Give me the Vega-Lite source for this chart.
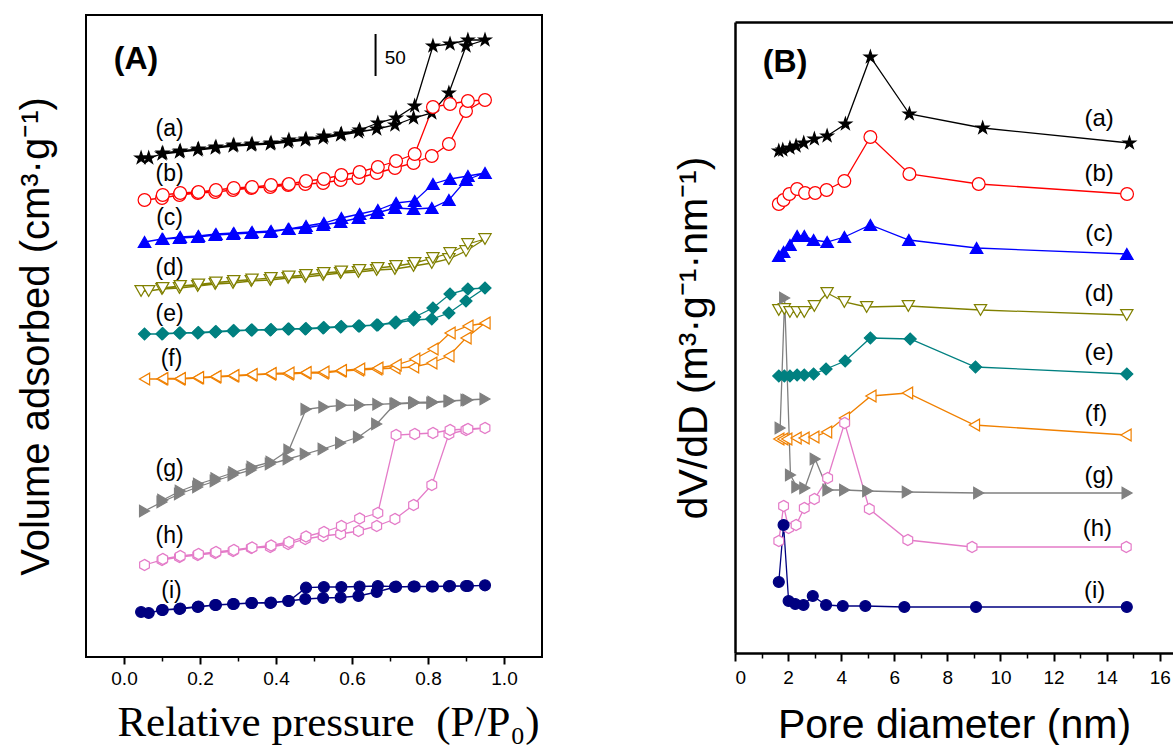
{
"$schema": "https://vega.github.io/schema/vega-lite/v6.json",
"padding": {"left": 15, "top": 14, "right": 0, "bottom": 0},
"config": {"view": {"stroke": null}, "font": "Liberation Sans", "axis": {"grid": false}},
"datasets": {
"iso": [
{"s":"a","k":0,"p":0.045,"v":499},{"s":"a","k":1,"p":0.065,"v":499},{"s":"a","k":2,"p":0.10,"v":503},{"s":"a","k":3,"p":0.146,"v":505},{"s":"a","k":4,"p":0.194,"v":507},{"s":"a","k":5,"p":0.24,"v":509},{"s":"a","k":6,"p":0.287,"v":511},{"s":"a","k":7,"p":0.335,"v":512},{"s":"a","k":8,"p":0.385,"v":513},{"s":"a","k":9,"p":0.432,"v":515},{"s":"a","k":10,"p":0.477,"v":517},{"s":"a","k":11,"p":0.524,"v":519},{"s":"a","k":12,"p":0.57,"v":522},{"s":"a","k":13,"p":0.617,"v":525},{"s":"a","k":14,"p":0.665,"v":528},{"s":"a","k":15,"p":0.713,"v":532},{"s":"a","k":16,"p":0.762,"v":539},{"s":"a","k":17,"p":0.81,"v":544},{"s":"a","k":18,"p":0.855,"v":564},{"s":"a","k":19,"p":0.9,"v":611},{"s":"a","k":20,"p":0.95,"v":617},
{"s":"a","k":21,"p":0.905,"v":617},{"s":"a","k":22,"p":0.858,"v":613},{"s":"a","k":23,"p":0.813,"v":611},{"s":"a","k":24,"p":0.765,"v":551},{"s":"a","k":25,"p":0.716,"v":539},{"s":"a","k":26,"p":0.668,"v":534},{"s":"a","k":27,"p":0.62,"v":527},{"s":"a","k":28,"p":0.572,"v":523},{"s":"a","k":29,"p":0.526,"v":521},{"s":"a","k":30,"p":0.479,"v":518},{"s":"a","k":31,"p":0.434,"v":517},{"s":"a","k":32,"p":0.387,"v":514},{"s":"a","k":33,"p":0.337,"v":513},{"s":"a","k":34,"p":0.289,"v":512},{"s":"a","k":35,"p":0.242,"v":510},{"s":"a","k":36,"p":0.196,"v":508},{"s":"a","k":37,"p":0.148,"v":506},{"s":"a","k":38,"p":0.102,"v":504},

{"s":"b","k":0,"p":0.054,"v":457},{"s":"b","k":1,"p":0.10,"v":459},{"s":"b","k":2,"p":0.146,"v":462},{"s":"b","k":3,"p":0.194,"v":464},{"s":"b","k":4,"p":0.24,"v":465},{"s":"b","k":5,"p":0.287,"v":467},{"s":"b","k":6,"p":0.335,"v":469},{"s":"b","k":7,"p":0.385,"v":470},{"s":"b","k":8,"p":0.432,"v":472},{"s":"b","k":9,"p":0.477,"v":473},{"s":"b","k":10,"p":0.524,"v":474},{"s":"b","k":11,"p":0.57,"v":477},{"s":"b","k":12,"p":0.617,"v":479},{"s":"b","k":13,"p":0.665,"v":484},{"s":"b","k":14,"p":0.713,"v":489},{"s":"b","k":15,"p":0.762,"v":494},{"s":"b","k":16,"p":0.81,"v":501},{"s":"b","k":17,"p":0.855,"v":513},{"s":"b","k":18,"p":0.9,"v":546},{"s":"b","k":19,"p":0.95,"v":557},
{"s":"b","k":20,"p":0.905,"v":556},{"s":"b","k":21,"p":0.858,"v":553},{"s":"b","k":22,"p":0.813,"v":550},{"s":"b","k":23,"p":0.765,"v":503},{"s":"b","k":24,"p":0.716,"v":496},{"s":"b","k":25,"p":0.668,"v":490},{"s":"b","k":26,"p":0.62,"v":485},{"s":"b","k":27,"p":0.572,"v":482},{"s":"b","k":28,"p":0.526,"v":478},{"s":"b","k":29,"p":0.479,"v":476},{"s":"b","k":30,"p":0.434,"v":473},{"s":"b","k":31,"p":0.387,"v":472},{"s":"b","k":32,"p":0.337,"v":470},{"s":"b","k":33,"p":0.289,"v":469},{"s":"b","k":34,"p":0.242,"v":467},{"s":"b","k":35,"p":0.196,"v":465},{"s":"b","k":36,"p":0.148,"v":464},{"s":"b","k":37,"p":0.102,"v":462},

{"s":"c","k":0,"p":0.054,"v":415},{"s":"c","k":1,"p":0.10,"v":418},{"s":"c","k":2,"p":0.146,"v":419},{"s":"c","k":3,"p":0.194,"v":420},{"s":"c","k":4,"p":0.24,"v":422},{"s":"c","k":5,"p":0.287,"v":423},{"s":"c","k":6,"p":0.335,"v":424},{"s":"c","k":7,"p":0.385,"v":425},{"s":"c","k":8,"p":0.432,"v":428},{"s":"c","k":9,"p":0.477,"v":429},{"s":"c","k":10,"p":0.524,"v":432},{"s":"c","k":11,"p":0.57,"v":435},{"s":"c","k":12,"p":0.617,"v":439},{"s":"c","k":13,"p":0.665,"v":444},{"s":"c","k":14,"p":0.713,"v":449},{"s":"c","k":15,"p":0.762,"v":448},{"s":"c","k":16,"p":0.81,"v":449},{"s":"c","k":17,"p":0.855,"v":457},{"s":"c","k":18,"p":0.9,"v":477},{"s":"c","k":19,"p":0.95,"v":484},
{"s":"c","k":20,"p":0.905,"v":481},{"s":"c","k":21,"p":0.858,"v":478},{"s":"c","k":22,"p":0.813,"v":473},{"s":"c","k":23,"p":0.765,"v":456},{"s":"c","k":24,"p":0.716,"v":454},{"s":"c","k":25,"p":0.668,"v":447},{"s":"c","k":26,"p":0.62,"v":443},{"s":"c","k":27,"p":0.572,"v":439},{"s":"c","k":28,"p":0.526,"v":434},{"s":"c","k":29,"p":0.479,"v":431},{"s":"c","k":30,"p":0.434,"v":428},{"s":"c","k":31,"p":0.387,"v":426},{"s":"c","k":32,"p":0.337,"v":425},{"s":"c","k":33,"p":0.289,"v":424},{"s":"c","k":34,"p":0.242,"v":423},{"s":"c","k":35,"p":0.196,"v":421},{"s":"c","k":36,"p":0.148,"v":420},{"s":"c","k":37,"p":0.102,"v":418},

{"s":"d","k":0,"p":0.045,"v":366},{"s":"d","k":1,"p":0.065,"v":366},{"s":"d","k":2,"p":0.10,"v":368},{"s":"d","k":3,"p":0.146,"v":369},{"s":"d","k":4,"p":0.194,"v":371},{"s":"d","k":5,"p":0.24,"v":373},{"s":"d","k":6,"p":0.287,"v":374},{"s":"d","k":7,"p":0.335,"v":376},{"s":"d","k":8,"p":0.385,"v":377},{"s":"d","k":9,"p":0.432,"v":379},{"s":"d","k":10,"p":0.477,"v":380},{"s":"d","k":11,"p":0.524,"v":382},{"s":"d","k":12,"p":0.57,"v":384},{"s":"d","k":13,"p":0.617,"v":385},{"s":"d","k":14,"p":0.665,"v":387},{"s":"d","k":15,"p":0.713,"v":388},{"s":"d","k":16,"p":0.762,"v":391},{"s":"d","k":17,"p":0.81,"v":394},{"s":"d","k":18,"p":0.855,"v":398},{"s":"d","k":19,"p":0.9,"v":406},{"s":"d","k":20,"p":0.95,"v":418},
{"s":"d","k":21,"p":0.905,"v":413},{"s":"d","k":22,"p":0.858,"v":404},{"s":"d","k":23,"p":0.813,"v":399},{"s":"d","k":24,"p":0.765,"v":394},{"s":"d","k":25,"p":0.716,"v":391},{"s":"d","k":26,"p":0.668,"v":389},{"s":"d","k":27,"p":0.62,"v":387},{"s":"d","k":28,"p":0.572,"v":385.5},{"s":"d","k":29,"p":0.526,"v":384},{"s":"d","k":30,"p":0.479,"v":382},{"s":"d","k":31,"p":0.434,"v":380.5},{"s":"d","k":32,"p":0.387,"v":379},{"s":"d","k":33,"p":0.337,"v":377.5},{"s":"d","k":34,"p":0.289,"v":376},{"s":"d","k":35,"p":0.242,"v":374.5},{"s":"d","k":36,"p":0.196,"v":372.5},{"s":"d","k":37,"p":0.148,"v":371},{"s":"d","k":38,"p":0.102,"v":369},

{"s":"e","k":0,"p":0.054,"v":323},{"s":"e","k":1,"p":0.10,"v":323},{"s":"e","k":2,"p":0.146,"v":324},{"s":"e","k":3,"p":0.194,"v":324},{"s":"e","k":4,"p":0.24,"v":325},{"s":"e","k":5,"p":0.287,"v":326},{"s":"e","k":6,"p":0.335,"v":327},{"s":"e","k":7,"p":0.385,"v":327},{"s":"e","k":8,"p":0.432,"v":328},{"s":"e","k":9,"p":0.477,"v":328},{"s":"e","k":10,"p":0.524,"v":329},{"s":"e","k":11,"p":0.57,"v":330},{"s":"e","k":12,"p":0.617,"v":331},{"s":"e","k":13,"p":0.665,"v":332},{"s":"e","k":14,"p":0.713,"v":334},{"s":"e","k":15,"p":0.762,"v":337},{"s":"e","k":16,"p":0.81,"v":338},{"s":"e","k":17,"p":0.855,"v":344},{"s":"e","k":18,"p":0.9,"v":356},{"s":"e","k":19,"p":0.95,"v":369},
{"s":"e","k":20,"p":0.905,"v":368},{"s":"e","k":21,"p":0.858,"v":363},{"s":"e","k":22,"p":0.813,"v":349},{"s":"e","k":23,"p":0.765,"v":340},{"s":"e","k":24,"p":0.716,"v":335},{"s":"e","k":25,"p":0.668,"v":332},{"s":"e","k":26,"p":0.62,"v":331},{"s":"e","k":27,"p":0.572,"v":330.5},{"s":"e","k":28,"p":0.526,"v":329.5},{"s":"e","k":29,"p":0.479,"v":328.5},{"s":"e","k":30,"p":0.434,"v":328},{"s":"e","k":31,"p":0.387,"v":327.5},{"s":"e","k":32,"p":0.337,"v":327},{"s":"e","k":33,"p":0.289,"v":326.5},{"s":"e","k":34,"p":0.242,"v":325.5},{"s":"e","k":35,"p":0.196,"v":324.5},{"s":"e","k":36,"p":0.148,"v":324},{"s":"e","k":37,"p":0.102,"v":323.5},

{"s":"f","k":0,"p":0.054,"v":278},{"s":"f","k":1,"p":0.10,"v":278},{"s":"f","k":2,"p":0.146,"v":278},{"s":"f","k":3,"p":0.194,"v":279},{"s":"f","k":4,"p":0.24,"v":280},{"s":"f","k":5,"p":0.287,"v":281},{"s":"f","k":6,"p":0.335,"v":282},{"s":"f","k":7,"p":0.385,"v":283},{"s":"f","k":8,"p":0.432,"v":283},{"s":"f","k":9,"p":0.477,"v":284},{"s":"f","k":10,"p":0.524,"v":284},{"s":"f","k":11,"p":0.57,"v":286},{"s":"f","k":12,"p":0.617,"v":287},{"s":"f","k":13,"p":0.665,"v":288},{"s":"f","k":14,"p":0.713,"v":289},{"s":"f","k":15,"p":0.762,"v":290},{"s":"f","k":16,"p":0.81,"v":294},{"s":"f","k":17,"p":0.855,"v":301},{"s":"f","k":18,"p":0.9,"v":319},{"s":"f","k":19,"p":0.95,"v":334},
{"s":"f","k":20,"p":0.905,"v":331},{"s":"f","k":21,"p":0.858,"v":324},{"s":"f","k":22,"p":0.813,"v":308},{"s":"f","k":23,"p":0.765,"v":298},{"s":"f","k":24,"p":0.716,"v":292},{"s":"f","k":25,"p":0.668,"v":289},{"s":"f","k":26,"p":0.62,"v":288},{"s":"f","k":27,"p":0.572,"v":286.5},{"s":"f","k":28,"p":0.526,"v":285},{"s":"f","k":29,"p":0.479,"v":284.5},{"s":"f","k":30,"p":0.434,"v":284},{"s":"f","k":31,"p":0.387,"v":283.5},{"s":"f","k":32,"p":0.337,"v":282.5},{"s":"f","k":33,"p":0.289,"v":281.5},{"s":"f","k":34,"p":0.242,"v":280.5},{"s":"f","k":35,"p":0.196,"v":279.5},{"s":"f","k":36,"p":0.148,"v":278.5},{"s":"f","k":37,"p":0.102,"v":278.5},

{"s":"g","k":0,"p":0.054,"v":146},{"s":"g","k":1,"p":0.10,"v":155},{"s":"g","k":2,"p":0.146,"v":163},{"s":"g","k":3,"p":0.194,"v":170},{"s":"g","k":4,"p":0.24,"v":176},{"s":"g","k":5,"p":0.287,"v":182},{"s":"g","k":6,"p":0.335,"v":187},{"s":"g","k":7,"p":0.385,"v":193},{"s":"g","k":8,"p":0.432,"v":198},{"s":"g","k":9,"p":0.477,"v":203},{"s":"g","k":10,"p":0.524,"v":208},{"s":"g","k":11,"p":0.57,"v":214},{"s":"g","k":12,"p":0.617,"v":220},{"s":"g","k":13,"p":0.665,"v":233},{"s":"g","k":14,"p":0.713,"v":253},{"s":"g","k":15,"p":0.762,"v":254},{"s":"g","k":16,"p":0.81,"v":254},{"s":"g","k":17,"p":0.855,"v":256},{"s":"g","k":18,"p":0.9,"v":257},{"s":"g","k":19,"p":0.95,"v":258},
{"s":"g","k":20,"p":0.905,"v":257},{"s":"g","k":21,"p":0.858,"v":256},{"s":"g","k":22,"p":0.813,"v":255},{"s":"g","k":23,"p":0.765,"v":254.5},{"s":"g","k":24,"p":0.716,"v":253.5},{"s":"g","k":25,"p":0.668,"v":252.7},{"s":"g","k":26,"p":0.62,"v":252},{"s":"g","k":27,"p":0.572,"v":251.7},{"s":"g","k":28,"p":0.526,"v":250},{"s":"g","k":29,"p":0.479,"v":247.7},{"s":"g","k":30,"p":0.434,"v":207},{"s":"g","k":31,"p":0.387,"v":195},{"s":"g","k":32,"p":0.337,"v":190},{"s":"g","k":33,"p":0.289,"v":184.5},{"s":"g","k":34,"p":0.242,"v":178.5},{"s":"g","k":35,"p":0.196,"v":173},{"s":"g","k":36,"p":0.148,"v":166},{"s":"g","k":37,"p":0.102,"v":157},

{"s":"h","k":0,"p":0.054,"v":92},{"s":"h","k":1,"p":0.10,"v":97},{"s":"h","k":2,"p":0.146,"v":100},{"s":"h","k":3,"p":0.194,"v":102},{"s":"h","k":4,"p":0.24,"v":104},{"s":"h","k":5,"p":0.287,"v":106},{"s":"h","k":6,"p":0.335,"v":109},{"s":"h","k":7,"p":0.385,"v":110},{"s":"h","k":8,"p":0.432,"v":113},{"s":"h","k":9,"p":0.477,"v":118},{"s":"h","k":10,"p":0.524,"v":121},{"s":"h","k":11,"p":0.57,"v":123},{"s":"h","k":12,"p":0.617,"v":126},{"s":"h","k":13,"p":0.665,"v":131},{"s":"h","k":14,"p":0.713,"v":138},{"s":"h","k":15,"p":0.762,"v":152},{"s":"h","k":16,"p":0.81,"v":172},{"s":"h","k":17,"p":0.855,"v":223},{"s":"h","k":18,"p":0.9,"v":227},{"s":"h","k":19,"p":0.95,"v":229},
{"s":"h","k":20,"p":0.905,"v":228},{"s":"h","k":21,"p":0.858,"v":227},{"s":"h","k":22,"p":0.813,"v":224},{"s":"h","k":23,"p":0.765,"v":223},{"s":"h","k":24,"p":0.716,"v":222},{"s":"h","k":25,"p":0.668,"v":144},{"s":"h","k":26,"p":0.62,"v":138.5},{"s":"h","k":27,"p":0.572,"v":131},{"s":"h","k":28,"p":0.526,"v":125},{"s":"h","k":29,"p":0.479,"v":120.5},{"s":"h","k":30,"p":0.434,"v":115},{"s":"h","k":31,"p":0.387,"v":111.5},{"s":"h","k":32,"p":0.337,"v":109.5},{"s":"h","k":33,"p":0.289,"v":107},{"s":"h","k":34,"p":0.242,"v":105},{"s":"h","k":35,"p":0.196,"v":103},{"s":"h","k":36,"p":0.148,"v":101},{"s":"h","k":37,"p":0.102,"v":98},

{"s":"i","k":0,"p":0.045,"v":45},{"s":"i","k":1,"p":0.065,"v":44},{"s":"i","k":2,"p":0.10,"v":47},{"s":"i","k":3,"p":0.146,"v":48},{"s":"i","k":4,"p":0.194,"v":50},{"s":"i","k":5,"p":0.24,"v":52},{"s":"i","k":6,"p":0.287,"v":53},{"s":"i","k":7,"p":0.335,"v":54},{"s":"i","k":8,"p":0.385,"v":54},{"s":"i","k":9,"p":0.432,"v":56},{"s":"i","k":10,"p":0.477,"v":58},{"s":"i","k":11,"p":0.524,"v":59},{"s":"i","k":12,"p":0.57,"v":59.5},{"s":"i","k":13,"p":0.617,"v":61},{"s":"i","k":14,"p":0.665,"v":65},{"s":"i","k":15,"p":0.713,"v":70},{"s":"i","k":16,"p":0.762,"v":70.5},{"s":"i","k":17,"p":0.81,"v":70.5},{"s":"i","k":18,"p":0.855,"v":70.7},{"s":"i","k":19,"p":0.9,"v":71},{"s":"i","k":20,"p":0.95,"v":71.7},
{"s":"i","k":21,"p":0.905,"v":71},{"s":"i","k":22,"p":0.858,"v":71},{"s":"i","k":23,"p":0.813,"v":70.5},{"s":"i","k":24,"p":0.765,"v":70.5},{"s":"i","k":25,"p":0.716,"v":70.3},{"s":"i","k":26,"p":0.668,"v":71},{"s":"i","k":27,"p":0.62,"v":70.5},{"s":"i","k":28,"p":0.572,"v":70},{"s":"i","k":29,"p":0.526,"v":70},{"s":"i","k":30,"p":0.479,"v":69.3},{"s":"i","k":31,"p":0.434,"v":56},{"s":"i","k":32,"p":0.387,"v":54.5},{"s":"i","k":33,"p":0.337,"v":54},{"s":"i","k":34,"p":0.289,"v":53},{"s":"i","k":35,"p":0.242,"v":52},{"s":"i","k":36,"p":0.196,"v":50.5},{"s":"i","k":37,"p":0.148,"v":48.5},{"s":"i","k":38,"p":0.102,"v":47}
],
"psd": [
{"s":"a","k":0,"d":1.65,"v":502},{"s":"a","k":1,"d":1.8,"v":503},{"s":"a","k":2,"d":2.07,"v":505},{"s":"a","k":3,"d":2.3,"v":507},{"s":"a","k":4,"d":2.59,"v":510},{"s":"a","k":5,"d":2.99,"v":514},{"s":"a","k":6,"d":3.47,"v":517},{"s":"a","k":7,"d":4.16,"v":529},{"s":"a","k":8,"d":5.1,"v":596},{"s":"a","k":9,"d":6.57,"v":539},{"s":"a","k":10,"d":9.33,"v":525},{"s":"a","k":11,"d":14.86,"v":510},
{"s":"b","k":0,"d":1.65,"v":449},{"s":"b","k":1,"d":1.83,"v":453},{"s":"b","k":2,"d":2.05,"v":459},{"s":"b","k":3,"d":2.34,"v":464},{"s":"b","k":4,"d":2.64,"v":460},{"s":"b","k":5,"d":3.02,"v":460},{"s":"b","k":6,"d":3.45,"v":463},{"s":"b","k":7,"d":4.12,"v":472},{"s":"b","k":8,"d":5.1,"v":516},{"s":"b","k":9,"d":6.57,"v":479},{"s":"b","k":10,"d":9.18,"v":469},{"s":"b","k":11,"d":14.77,"v":459},
{"s":"c","k":0,"d":1.65,"v":397},{"s":"c","k":1,"d":1.83,"v":401},{"s":"c","k":2,"d":2.07,"v":408},{"s":"c","k":3,"d":2.34,"v":417},{"s":"c","k":4,"d":2.61,"v":417},{"s":"c","k":5,"d":2.96,"v":413},{"s":"c","k":6,"d":3.47,"v":411},{"s":"c","k":7,"d":4.12,"v":416},{"s":"c","k":8,"d":5.1,"v":428},{"s":"c","k":9,"d":6.55,"v":413},{"s":"c","k":10,"d":9.1,"v":405},{"s":"c","k":11,"d":14.76,"v":399},
{"s":"d","k":0,"d":1.65,"v":343},{"s":"d","k":1,"d":1.86,"v":344},{"s":"d","k":2,"d":2.07,"v":341},{"s":"d","k":3,"d":2.34,"v":341},{"s":"d","k":4,"d":2.61,"v":341},{"s":"d","k":5,"d":2.99,"v":347},{"s":"d","k":6,"d":3.47,"v":360},{"s":"d","k":7,"d":4.12,"v":351},{"s":"d","k":8,"d":4.96,"v":346},{"s":"d","k":9,"d":6.53,"v":347},{"s":"d","k":10,"d":9.25,"v":343},{"s":"d","k":11,"d":14.76,"v":338},
{"s":"e","k":0,"d":1.65,"v":277},{"s":"e","k":1,"d":1.86,"v":277},{"s":"e","k":2,"d":2.07,"v":277},{"s":"e","k":3,"d":2.34,"v":278},{"s":"e","k":4,"d":2.61,"v":278},{"s":"e","k":5,"d":2.96,"v":279},{"s":"e","k":6,"d":3.43,"v":284},{"s":"e","k":7,"d":4.15,"v":292},{"s":"e","k":8,"d":5.1,"v":315},{"s":"e","k":9,"d":6.6,"v":314},{"s":"e","k":10,"d":9.06,"v":286},{"s":"e","k":11,"d":14.76,"v":279},
{"s":"f","k":0,"d":1.65,"v":214},{"s":"f","k":1,"d":1.8,"v":214},{"s":"f","k":2,"d":1.95,"v":214},{"s":"f","k":3,"d":2.3,"v":215},{"s":"f","k":4,"d":2.6,"v":215},{"s":"f","k":5,"d":2.97,"v":216},{"s":"f","k":6,"d":3.45,"v":221},{"s":"f","k":7,"d":4.12,"v":235},{"s":"f","k":8,"d":5.12,"v":257},{"s":"f","k":9,"d":6.5,"v":260},{"s":"f","k":10,"d":9.02,"v":228},{"s":"f","k":11,"d":14.73,"v":218},
{"s":"g","k":0,"d":1.7,"v":225},{"s":"g","k":1,"d":1.87,"v":355},{"s":"g","k":2,"d":2.09,"v":178},{"s":"g","k":3,"d":2.33,"v":166},{"s":"g","k":4,"d":2.63,"v":165},{"s":"g","k":5,"d":3.02,"v":194},{"s":"g","k":6,"d":3.5,"v":163},{"s":"g","k":7,"d":4.13,"v":163},{"s":"g","k":8,"d":5.0,"v":162},{"s":"g","k":9,"d":6.49,"v":161},{"s":"g","k":10,"d":9.18,"v":160},{"s":"g","k":11,"d":14.77,"v":160},
{"s":"h","k":0,"d":1.65,"v":112},{"s":"h","k":1,"d":1.83,"v":147},{"s":"h","k":2,"d":2.02,"v":125},{"s":"h","k":3,"d":2.3,"v":128},{"s":"h","k":4,"d":2.61,"v":145},{"s":"h","k":5,"d":2.99,"v":154},{"s":"h","k":6,"d":3.49,"v":175},{"s":"h","k":7,"d":4.13,"v":230},{"s":"h","k":8,"d":5.06,"v":144},{"s":"h","k":9,"d":6.51,"v":113},{"s":"h","k":10,"d":8.93,"v":106},{"s":"h","k":11,"d":14.74,"v":106},
{"s":"i","k":0,"d":1.65,"v":71},{"s":"i","k":1,"d":1.83,"v":128},{"s":"i","k":2,"d":2.02,"v":52},{"s":"i","k":3,"d":2.27,"v":49},{"s":"i","k":4,"d":2.58,"v":48},{"s":"i","k":5,"d":2.93,"v":57},{"s":"i","k":6,"d":3.43,"v":48},{"s":"i","k":7,"d":4.06,"v":47},{"s":"i","k":8,"d":4.91,"v":47},{"s":"i","k":9,"d":6.38,"v":46},{"s":"i","k":10,"d":9.08,"v":46},{"s":"i","k":11,"d":14.76,"v":46}
],
"labA": [
{"t":"(a)","p":0.12,"v":528},{"t":"(b)","p":0.12,"v":483},{"t":"(c)","p":0.12,"v":439},{"t":"(d)","p":0.12,"v":389},{"t":"(e)","p":0.12,"v":343},{"t":"(f)","p":0.125,"v":298},{"t":"(g)","p":0.12,"v":188},{"t":"(h)","p":0.12,"v":121},{"t":"(i)","p":0.125,"v":66}
],
"labB": [
{"t":"(a)","d":13.72,"v":534},{"t":"(b)","d":13.72,"v":479},{"t":"(c)","d":13.72,"v":419},{"t":"(d)","d":13.72,"v":359},{"t":"(e)","d":13.72,"v":300},{"t":"(f)","d":13.6,"v":239},{"t":"(g)","d":13.72,"v":177},{"t":"(h)","d":13.65,"v":124},{"t":"(i)","d":13.55,"v":62}
]
},
"spacing": 130,
"hconcat": [
{
"width": 456, "height": 642,
"view": {"stroke": "#000000", "strokeWidth": 2},
"layer": [
{"data": {"name": "iso"}, "mark": {"type": "line", "strokeWidth": 1.3},
 "encoding": {
  "x": {"field": "p", "type": "quantitative", "scale": {"domain": [-0.1, 1.1], "nice": false, "zero": false},
        "axis": {"orient": "bottom", "values": [0, 0.2, 0.4, 0.6, 0.8, 1.0], "format": ".1f", "domain": false, "tickSize": 7, "tickWidth": 2, "tickColor": "#000000", "labelFont": "Liberation Sans", "labelFontSize": 19, "labelColor": "#000000", "labelPadding": 5, "title": "Relative pressure\u00a0\u00a0(P/P₀)", "titleFont": "Liberation Serif", "titleFontSize": 43, "titleFontWeight": "normal", "titlePadding": 13, "titleX": 242, "titleColor": "#000000"}},
  "y": {"field": "v", "type": "quantitative", "scale": {"domain": [0, 642], "nice": false, "zero": false},
        "axis": {"domain": false, "ticks": false, "labels": false, "title": "Volume adsorbed (cm³·g⁻¹)", "titleFont": "Liberation Sans", "titleFontSize": 40, "titleFontWeight": "normal", "titlePadding": 30, "titleColor": "#000000"}},
  "stroke": {"field": "s", "type": "nominal", "scale": {"domain": ["a","b","c","d","e","f","g","h","i"], "range": ["#000000","#FF0000","#0000FF","#808000","#008080","#F08000","#808080","#E47BC8","#000080"]}, "legend": null},
  "order": {"field": "k", "type": "quantitative"}
 }},
{"data": {"name": "iso"}, "mark": {"type": "point", "opacity": 1, "strokeWidth": 1.2},
 "encoding": {
  "x": {"field": "p", "type": "quantitative", "axis": null},
  "y": {"field": "v", "type": "quantitative", "axis": null},
  "stroke": {"field": "s", "type": "nominal", "legend": null},
  "fill": {"field": "s", "type": "nominal", "scale": {"domain": ["a","b","c","d","e","f","g","h","i"], "range": ["#000000","#FFFFFF","#0000FF","#FFFFFF","#008080","#FFFFFF","#808080","#FFFFFF","#000080"]}, "legend": null},
  "shape": {"field": "s", "type": "nominal", "scale": {"domain": ["a","b","c","d","e","f","g","h","i"], "range": ["M0,-1L0.2245,-0.309L0.951,-0.309L0.363,0.118L0.588,0.809L0,0.382L-0.588,0.809L-0.363,0.118L-0.951,-0.309L-0.2245,-0.309Z","circle","triangle-up","triangle-down","diamond","triangle-left","triangle-right","M0,-1L0.866,-0.5L0.866,0.5L0,1L-0.866,0.5L-0.866,-0.5Z","circle"]}, "legend": null},
  "size": {"field": "s", "type": "nominal", "scale": {"domain": ["a","b","c","d","e","f","g","h","i"], "range": [170,120,130,120,130,120,130,130,100]}, "legend": null}
 }},
{"data": {"name": "iso"}, "mark": {"type": "point", "opacity": 0},
 "encoding": {
  "x": {"field": "p", "type": "quantitative", "axis": {"orient": "bottom", "values": [0.1, 0.3, 0.5, 0.7, 0.9], "labels": false, "domain": false, "tickSize": 4, "tickWidth": 1.5, "tickColor": "#000000", "title": null}},
  "y": {"field": "v", "type": "quantitative", "axis": null}
 }},
{"data": {"name": "labA"}, "mark": {"type": "text", "fontSize": 23, "align": "center", "baseline": "middle", "color": "#000000", "font": "Liberation Sans"},
 "encoding": {
  "x": {"field": "p", "type": "quantitative", "axis": null},
  "y": {"field": "v", "type": "quantitative", "axis": null},
  "text": {"field": "t"}
 }},
{"data": {"values": [{"t": "(A)", "p": -0.027, "v": 598}]}, "mark": {"type": "text", "fontSize": 32, "fontWeight": "bold", "align": "left", "baseline": "middle", "color": "#000000", "font": "Liberation Sans"},
 "encoding": {
  "x": {"field": "p", "type": "quantitative", "axis": null},
  "y": {"field": "v", "type": "quantitative", "axis": null},
  "text": {"field": "t"}
 }},
{"data": {"values": [{"p": 0.662, "v1": 581, "v2": 623}]}, "mark": {"type": "rule", "strokeWidth": 2, "color": "#000000"},
 "encoding": {
  "x": {"field": "p", "type": "quantitative", "axis": null},
  "y": {"field": "v1", "type": "quantitative", "axis": null},
  "y2": {"field": "v2"}
 }},
{"data": {"values": [{"t": "50", "p": 0.686, "v": 599}]}, "mark": {"type": "text", "fontSize": 19, "align": "left", "baseline": "middle", "color": "#000000", "font": "Liberation Sans"},
 "encoding": {
  "x": {"field": "p", "type": "quantitative", "axis": null},
  "y": {"field": "v", "type": "quantitative", "axis": null},
  "text": {"field": "t"}
 }}
],
"resolve": {"axis": {"x": "independent", "y": "independent"}}
},
{
"spacing": 0,
"vconcat": [
{"width": 10, "height": 7, "data": {"values": [{"z": 0}]}, "mark": {"type": "point", "opacity": 0, "size": 1}, "encoding": {}},
{
"width": 438, "height": 631,
"layer": [
{"data": {"name": "psd"}, "mark": {"type": "line", "strokeWidth": 1.3},
 "encoding": {
  "x": {"field": "d", "type": "quantitative", "scale": {"domain": [0, 16.5], "nice": false, "zero": false},
        "axis": {"orient": "bottom", "values": [0, 2, 4, 6, 8, 10, 12, 14, 16], "domain": true, "domainWidth": 2.5, "domainColor": "#000000", "tickSize": 8, "tickWidth": 2, "tickColor": "#000000", "labelFont": "Liberation Sans", "labelFontSize": 19, "labelColor": "#000000", "labelPadding": 7, "title": "Pore diameter (nm)", "titleFont": "Liberation Sans", "titleFontSize": 41, "titleFontWeight": "normal", "titlePadding": 18, "titleColor": "#000000"}},
  "y": {"field": "v", "type": "quantitative", "scale": {"domain": [0, 631], "nice": false, "zero": false},
        "axis": {"domain": true, "domainWidth": 2.5, "domainColor": "#000000", "ticks": false, "labels": false, "title": "dV/dD (m³·g⁻¹·nm⁻¹)", "titleFont": "Liberation Sans", "titleFontSize": 41, "titleFontWeight": "normal", "titlePadding": 20, "titleColor": "#000000"}},
  "stroke": {"field": "s", "type": "nominal", "scale": {"domain": ["a","b","c","d","e","f","g","h","i"], "range": ["#000000","#FF0000","#0000FF","#808000","#008080","#F08000","#808080","#E47BC8","#000080"]}, "legend": null},
  "order": {"field": "k", "type": "quantitative"}
 }},
{"data": {"name": "psd"}, "mark": {"type": "point", "opacity": 1, "strokeWidth": 1.2},
 "encoding": {
  "x": {"field": "d", "type": "quantitative", "axis": null},
  "y": {"field": "v", "type": "quantitative", "axis": null},
  "stroke": {"field": "s", "type": "nominal", "legend": null},
  "fill": {"field": "s", "type": "nominal", "scale": {"domain": ["a","b","c","d","e","f","g","h","i"], "range": ["#000000","#FFFFFF","#0000FF","#FFFFFF","#008080","#FFFFFF","#808080","#FFFFFF","#000080"]}, "legend": null},
  "shape": {"field": "s", "type": "nominal", "scale": {"domain": ["a","b","c","d","e","f","g","h","i"], "range": ["M0,-1L0.2245,-0.309L0.951,-0.309L0.363,0.118L0.588,0.809L0,0.382L-0.588,0.809L-0.363,0.118L-0.951,-0.309L-0.2245,-0.309Z","circle","triangle-up","triangle-down","diamond","triangle-left","triangle-right","M0,-1L0.866,-0.5L0.866,0.5L0,1L-0.866,0.5L-0.866,-0.5Z","circle"]}, "legend": null},
  "size": {"field": "s", "type": "nominal", "scale": {"domain": ["a","b","c","d","e","f","g","h","i"], "range": [150,110,120,110,120,110,120,120,110]}, "legend": null}
 }},
{"data": {"name": "psd"}, "mark": {"type": "point", "opacity": 0},
 "encoding": {
  "x": {"field": "d", "type": "quantitative", "axis": {"orient": "top", "domain": true, "domainWidth": 2.5, "domainColor": "#000000", "ticks": false, "labels": false, "title": null}},
  "y": {"field": "v", "type": "quantitative", "axis": null}
 }},
{"data": {"name": "psd"}, "mark": {"type": "point", "opacity": 0},
 "encoding": {
  "x": {"field": "d", "type": "quantitative", "axis": {"orient": "bottom", "values": [1, 3, 5, 7, 9, 11, 13, 15], "labels": false, "domain": false, "tickSize": 5, "tickWidth": 1.5, "tickColor": "#000000", "title": null}},
  "y": {"field": "v", "type": "quantitative", "axis": null}
 }},
{"data": {"name": "labB"}, "mark": {"type": "text", "fontSize": 24, "align": "center", "baseline": "middle", "color": "#000000", "font": "Liberation Sans"},
 "encoding": {
  "x": {"field": "d", "type": "quantitative", "axis": null},
  "y": {"field": "v", "type": "quantitative", "axis": null},
  "text": {"field": "t"}
 }},
{"data": {"values": [{"t": "(B)", "d": 1.05, "v": 591}]}, "mark": {"type": "text", "fontSize": 32, "fontWeight": "bold", "align": "left", "baseline": "middle", "color": "#000000", "font": "Liberation Sans"},
 "encoding": {
  "x": {"field": "d", "type": "quantitative", "axis": null},
  "y": {"field": "v", "type": "quantitative", "axis": null},
  "text": {"field": "t"}
 }}
],
"resolve": {"axis": {"x": "independent", "y": "independent"}}
}
]
}
]
}
